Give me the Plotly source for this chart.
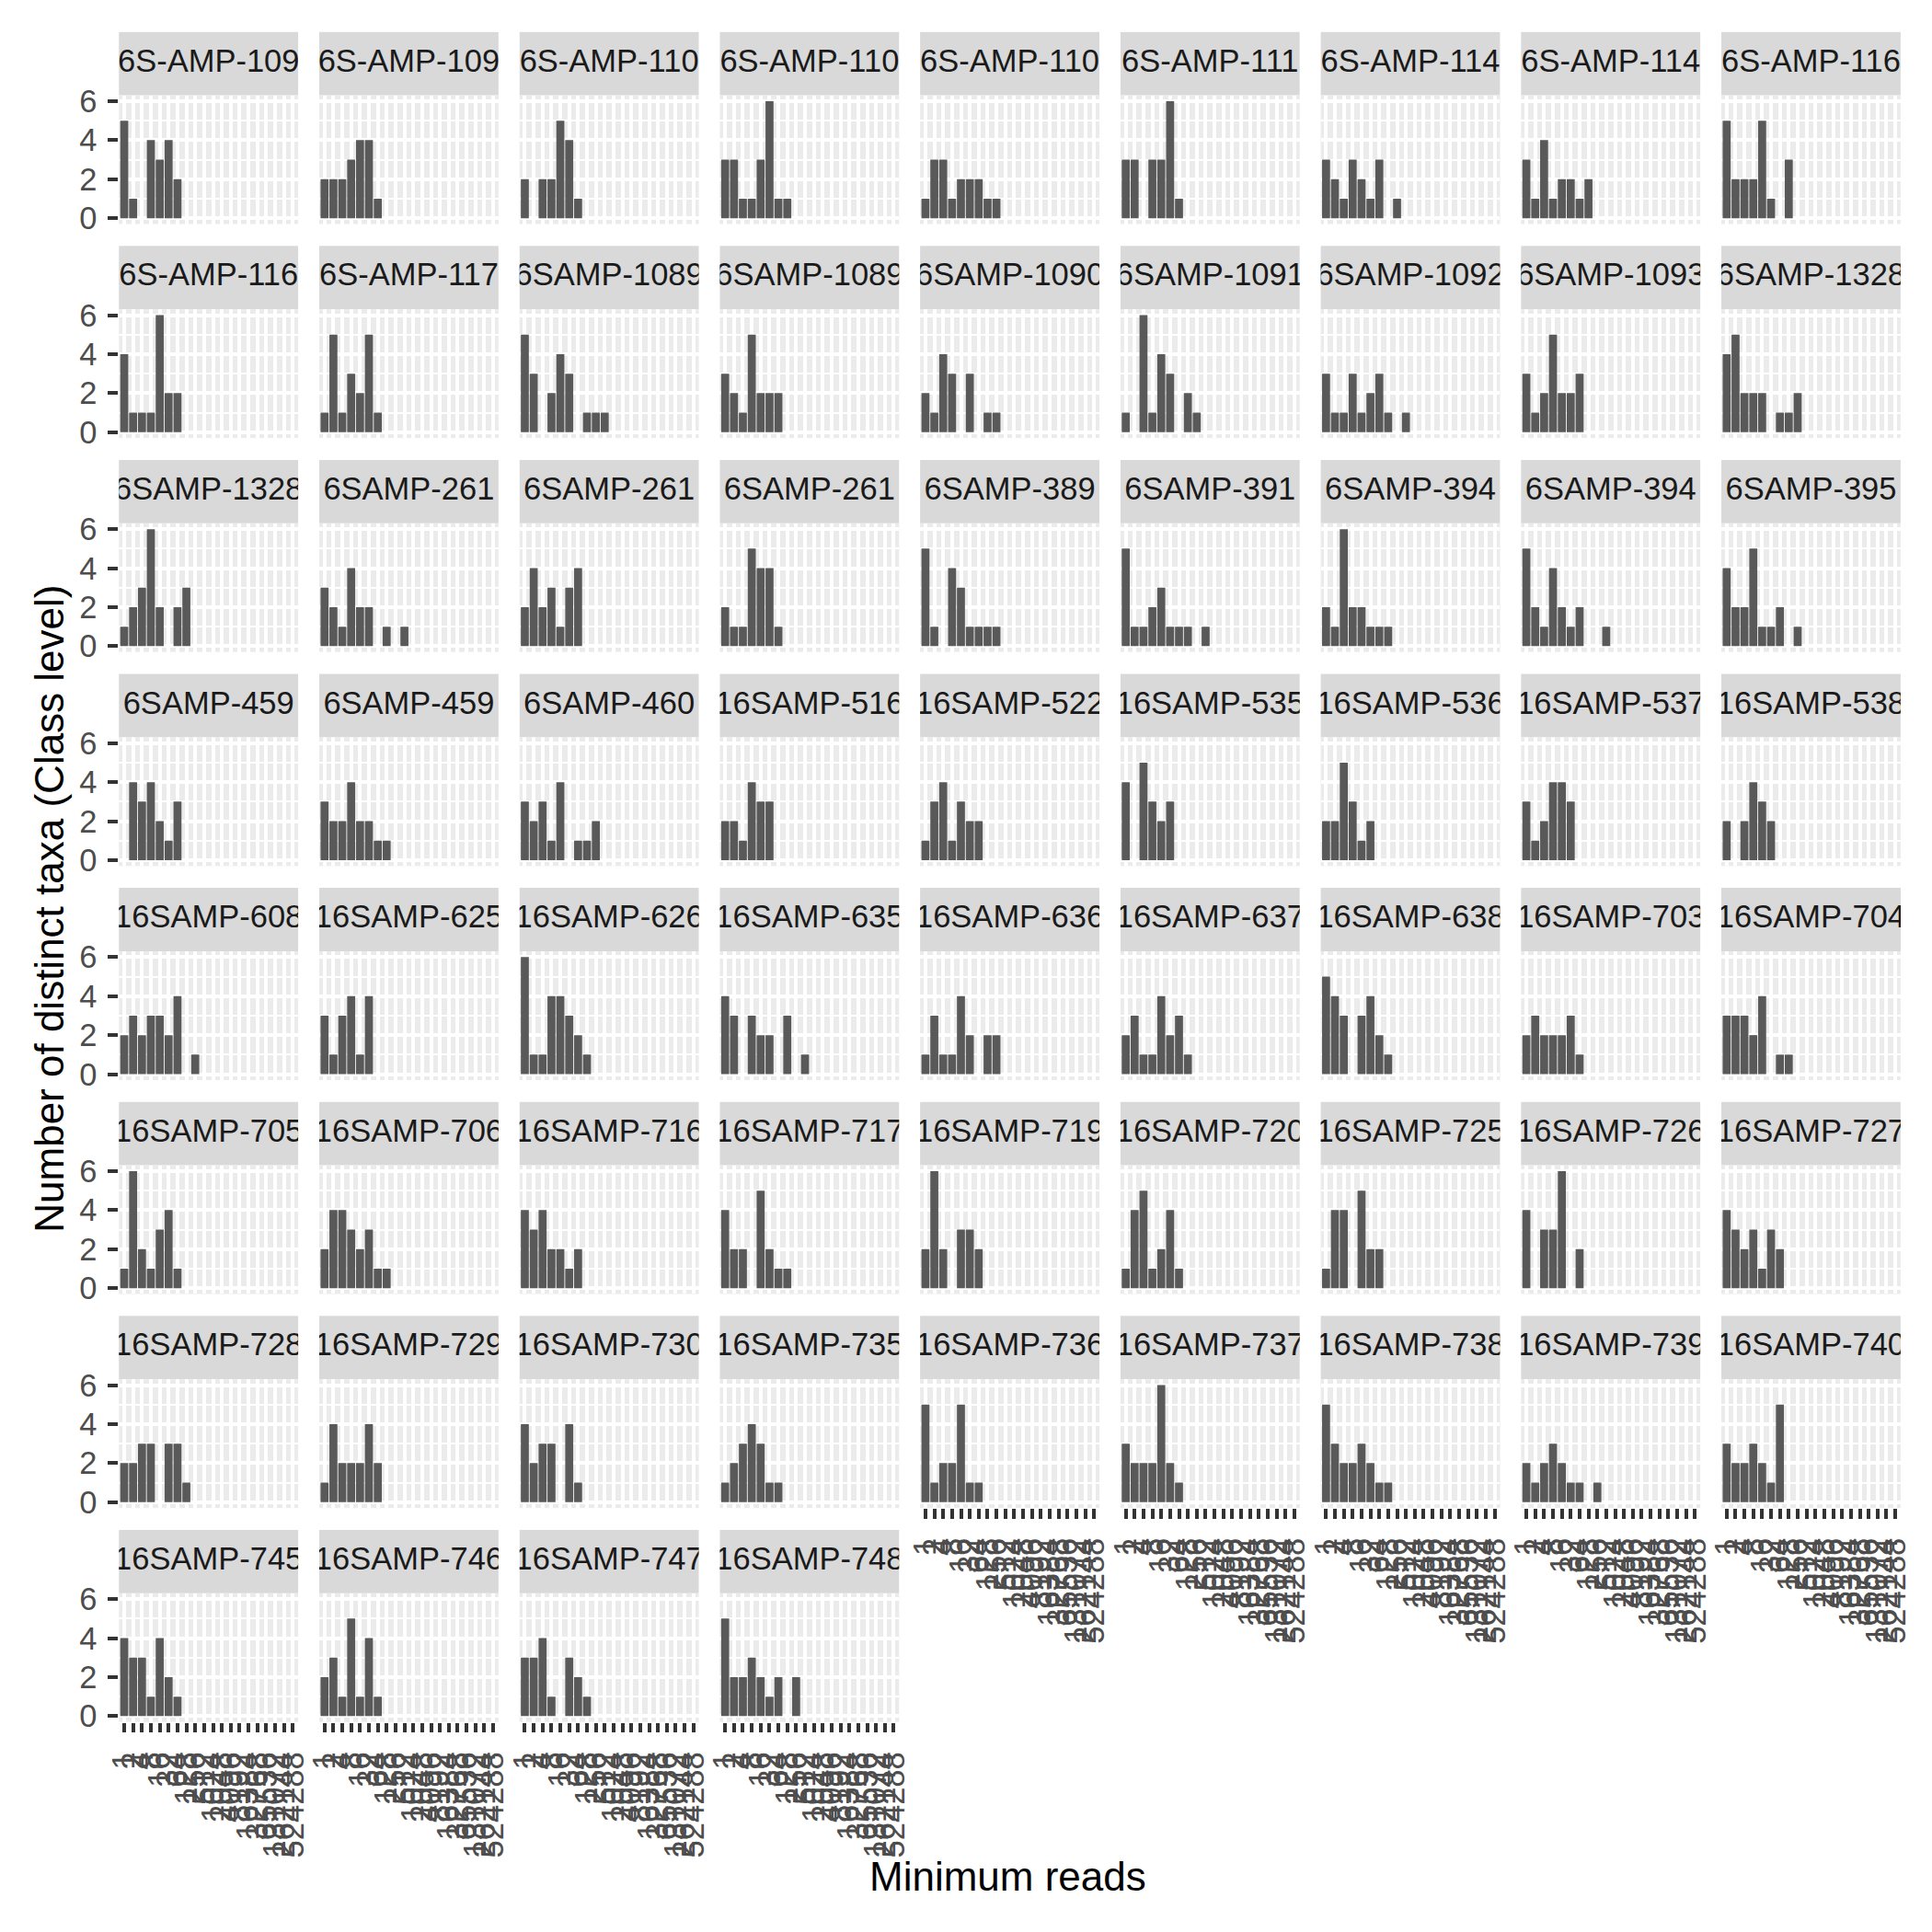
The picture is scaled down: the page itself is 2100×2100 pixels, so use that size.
import plotly.graph_objects as go

# ---------------- data ----------------
min_reads = ["1", "2", "4", "8", "16", "32", "64", "128", "256", "512",
             "1024", "2048", "4096", "8192", "16384", "32768", "65536",
             "131072", "262144", "524288"]

panel_labels = [
    "6S-AMP-109", "6S-AMP-109", "6S-AMP-110", "6S-AMP-110", "6S-AMP-110",
    "6S-AMP-111", "6S-AMP-114", "6S-AMP-114", "6S-AMP-116",
    "6S-AMP-116", "6S-AMP-117", "6SAMP-1089", "6SAMP-1089", "6SAMP-1090",
    "6SAMP-1091", "6SAMP-1092", "6SAMP-1093", "6SAMP-1328",
    "6SAMP-1328", "6SAMP-261", "6SAMP-261", "6SAMP-261", "6SAMP-389",
    "6SAMP-391", "6SAMP-394", "6SAMP-394", "6SAMP-395",
    "6SAMP-459", "6SAMP-459", "6SAMP-460", "16SAMP-516", "16SAMP-522",
    "16SAMP-535", "16SAMP-536", "16SAMP-537", "16SAMP-538",
    "16SAMP-608", "16SAMP-625", "16SAMP-626", "16SAMP-635", "16SAMP-636",
    "16SAMP-637", "16SAMP-638", "16SAMP-703", "16SAMP-704",
    "16SAMP-705", "16SAMP-706", "16SAMP-716", "16SAMP-717", "16SAMP-719",
    "16SAMP-720", "16SAMP-725", "16SAMP-726", "16SAMP-727",
    "16SAMP-728", "16SAMP-729", "16SAMP-730", "16SAMP-735", "16SAMP-736",
    "16SAMP-737", "16SAMP-738", "16SAMP-739", "16SAMP-740",
    "16SAMP-745", "16SAMP-746", "16SAMP-747", "16SAMP-748",
]

# number of distinct taxa per minimum-reads threshold (leading thresholds only;
# later thresholds have no taxa)
taxa_counts = [
    [5, 1, 0, 4, 3, 4, 2],
    [2, 2, 2, 3, 4, 4, 1],
    [2, 0, 2, 2, 5, 4, 1],
    [3, 3, 1, 1, 3, 6, 1, 1],
    [1, 3, 3, 1, 2, 2, 2, 1, 1],
    [3, 3, 0, 3, 3, 6, 1],
    [3, 2, 1, 3, 2, 1, 3, 0, 1],
    [3, 1, 4, 1, 2, 2, 1, 2],
    [5, 2, 2, 2, 5, 1, 0, 3],

    [4, 1, 1, 1, 6, 2, 2],
    [1, 5, 1, 3, 2, 5, 1],
    [5, 3, 0, 2, 4, 3, 0, 1, 1, 1],
    [3, 2, 1, 5, 2, 2, 2],
    [2, 1, 4, 3, 0, 3, 0, 1, 1],
    [1, 0, 6, 1, 4, 3, 0, 2, 1],
    [3, 1, 1, 3, 1, 2, 3, 1, 0, 1],
    [3, 1, 2, 5, 2, 2, 3],
    [4, 5, 2, 2, 2, 0, 1, 1, 2],

    [1, 2, 3, 6, 2, 0, 2, 3],
    [3, 2, 1, 4, 2, 2, 0, 1, 0, 1],
    [2, 4, 2, 3, 1, 3, 4],
    [2, 1, 1, 5, 4, 4, 1],
    [5, 1, 0, 4, 3, 1, 1, 1, 1],
    [5, 1, 1, 2, 3, 1, 1, 1, 0, 1],
    [2, 1, 6, 2, 2, 1, 1, 1],
    [5, 2, 1, 4, 2, 1, 2, 0, 0, 1],
    [4, 2, 2, 5, 1, 1, 2, 0, 1],

    [0, 4, 3, 4, 2, 1, 3],
    [3, 2, 2, 4, 2, 2, 1, 1],
    [3, 2, 3, 1, 4, 0, 1, 1, 2],
    [2, 2, 1, 4, 3, 3],
    [1, 3, 4, 1, 3, 2, 2],
    [4, 0, 5, 3, 2, 3],
    [2, 2, 5, 3, 1, 2],
    [3, 1, 2, 4, 4, 3],
    [2, 0, 2, 4, 3, 2],

    [2, 3, 2, 3, 3, 2, 4, 0, 1],
    [3, 1, 3, 4, 1, 4],
    [6, 1, 1, 4, 4, 3, 2, 1],
    [4, 3, 0, 3, 2, 2, 0, 3, 0, 1],
    [1, 3, 1, 1, 4, 2, 0, 2, 2],
    [2, 3, 1, 1, 4, 2, 3, 1],
    [5, 4, 3, 0, 3, 4, 2, 1],
    [2, 3, 2, 2, 2, 3, 1],
    [3, 3, 3, 2, 4, 0, 1, 1],

    [1, 6, 2, 1, 3, 4, 1],
    [2, 4, 4, 3, 2, 3, 1, 1],
    [4, 3, 4, 2, 2, 1, 2],
    [4, 2, 2, 0, 5, 2, 1, 1],
    [2, 6, 2, 0, 3, 3, 2],
    [1, 4, 5, 1, 2, 4, 1],
    [1, 4, 4, 0, 5, 2, 2],
    [4, 0, 3, 3, 6, 0, 2],
    [4, 3, 2, 3, 1, 3, 2],

    [2, 2, 3, 3, 0, 3, 3, 1],
    [1, 4, 2, 2, 2, 4, 2],
    [4, 2, 3, 3, 0, 4, 1],
    [1, 2, 3, 4, 3, 1, 1],
    [5, 1, 2, 2, 5, 1, 1],
    [3, 2, 2, 2, 6, 2, 1],
    [5, 3, 2, 2, 3, 2, 1, 1],
    [2, 1, 2, 3, 2, 1, 1, 0, 1],
    [3, 2, 2, 3, 2, 1, 5],

    [4, 3, 3, 1, 4, 2, 1],
    [2, 3, 1, 5, 1, 4, 1],
    [3, 3, 4, 1, 0, 3, 2, 1],
    [5, 2, 2, 3, 2, 1, 2, 0, 2],
]

y_ticks = [0, 2, 4, 6]
y_minor = [1, 3, 5]

# ---------------- layout geometry (pixels) ----------------
W = H = 2100
NCOL = 9
LEFT0, PITCH_X, PW = 116.7, 220.45, 197.3
TOP0, PITCH_Y, STRIP_H, PH = 23.0, 235.4, 69.7, 141.6

FONT = "Liberation Sans, Arial, Helvetica, sans-serif"
TICK_FS = 34.5
BAR_COLOR = "#595959"

fig = go.Figure()
layout = dict(
    width=W, height=H, autosize=False,
    margin=dict(l=0, r=0, t=0, b=0, pad=0),
    paper_bgcolor="white", plot_bgcolor="#EBEBEB",
    showlegend=False, font=dict(family=FONT),
    shapes=[], annotations=[],
)

n = len(panel_labels)
xs = list(range(1, len(min_reads) + 1))


def ax_names(k):
    return (("x" if k == 1 else f"x{k}"), ("y" if k == 1 else f"y{k}"),
            ("xaxis" if k == 1 else f"xaxis{k}"),
            ("yaxis" if k == 1 else f"yaxis{k}"))


for i, (lab, vals) in enumerate(zip(panel_labels, taxa_counts)):
    r, c = divmod(i, NCOL)
    xl = LEFT0 + c * PITCH_X
    xr = xl + PW
    st = TOP0 + r * PITCH_Y
    sb = st + STRIP_H
    pb = sb + PH
    xname, yname, xkey, ykey = ax_names(i + 1)
    bottom = (i + NCOL >= n)
    first_col = (c == 0)

    ys = list(vals) + [0] * (len(min_reads) - len(vals))
    fig.add_trace(go.Bar(
        x=xs, y=ys, xaxis=xname, yaxis=yname, width=0.9,
        marker=dict(color=BAR_COLOR, line=dict(width=0)),
        hoverinfo="skip",
    ))

    layout[xkey] = dict(
        domain=[xl / W, xr / W], anchor=yname,
        range=[0.4, len(min_reads) + 0.6],
        tickmode="array", tickvals=xs,
        ticktext=min_reads if bottom else [""] * len(xs),
        showticklabels=bottom,
        ticks="outside" if bottom else "",
        ticklen=10.8, tickwidth=4, tickcolor="#333333",
        tickangle=-90, ticklabelstandoff=7,
        tickfont=dict(size=TICK_FS, color="#4D4D4D", family=FONT),
        showgrid=True, gridcolor="white", gridwidth=4,
        zeroline=False, showline=False, fixedrange=True,
    )
    layout[ykey] = dict(
        domain=[1 - pb / H, 1 - sb / H], anchor=xname,
        range=[-0.3, 6.3],
        tickmode="array", tickvals=y_ticks,
        ticktext=[str(v) for v in y_ticks],
        showticklabels=first_col,
        ticks="outside" if first_col else "",
        ticklen=10.8, tickwidth=4, tickcolor="#333333",
        ticklabelstandoff=5,
        tickfont=dict(size=TICK_FS, color="#4D4D4D", family=FONT),
        showgrid=True, gridcolor="white", gridwidth=4,
        minor=dict(tickmode="array", tickvals=y_minor, showgrid=True,
                   gridcolor="white", gridwidth=2, ticks=""),
        zeroline=False, showline=False, fixedrange=True,
    )

    # facet strip: its own hidden axes so the label is clipped to the strip
    sx, sy, sxk, syk = ax_names(n + i + 1)
    layout[sxk] = dict(domain=[xl / W, xr / W], anchor=sy, range=[0, 1],
                       visible=False, fixedrange=True)
    layout[syk] = dict(domain=[1 - sb / H, 1 - st / H], anchor=sx,
                       range=[0, 1], visible=False, fixedrange=True)
    layout["shapes"].append(dict(
        type="rect", xref=sx, yref=sy, x0=0, x1=1, y0=0, y1=1,
        fillcolor="#D9D9D9", line=dict(width=0), layer="below",
    ))
    fig.add_trace(go.Scatter(
        x=[0.5], y=[0.5], xaxis=sx, yaxis=sy, mode="text", text=[lab],
        textposition="middle center", cliponaxis=True, hoverinfo="skip",
        textfont=dict(size=TICK_FS, color="#1A1A1A", family=FONT),
    ))

# axis titles
layout["annotations"].append(dict(
    text="Minimum reads", xref="paper", yref="paper",
    x=1095 / W, y=1 - 2052 / H, xanchor="center", yanchor="middle",
    showarrow=False, font=dict(size=44, color="black", family=FONT),
))
layout["annotations"].append(dict(
    text="Number of distinct taxa (Class level)", xref="paper", yref="paper",
    x=40 / W, y=1 - 988 / H, xanchor="center", yanchor="middle",
    textangle=-90, showarrow=False,
    font=dict(size=44, color="black", family=FONT),
))

fig.update_layout(**layout)
fig.write_html(
    "out.html",
    config={"displayModeBar": False},
    post_script="document.body.style.margin='0';document.body.style.padding='0';",
)
